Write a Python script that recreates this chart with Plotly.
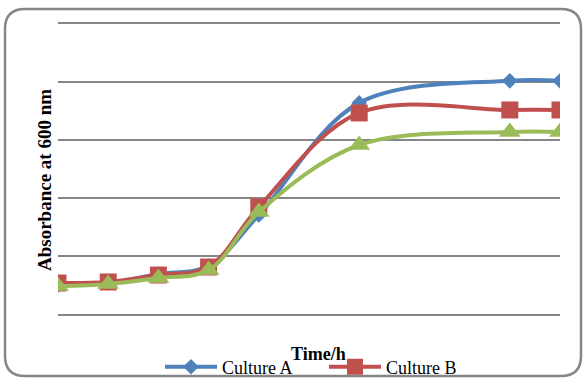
import plotly.graph_objects as go

time_h = [0, 2, 4, 6, 8, 12, 18, 20]
culture_a = [0.250, 0.267, 0.345, 0.414, 0.853, 1.820, 2.010, 2.010]
culture_b = [0.267, 0.276, 0.336, 0.405, 0.922, 1.733, 1.759, 1.759]
culture_c = [0.241, 0.259, 0.310, 0.379, 0.879, 1.457, 1.569, 1.569]

W, H = 583, 379
L, R, T, B = 58, 23, 24, 65
PW, PH = W - L - R, H - T - B

def px(x):
    return (x - L) / PW

def py(y):
    return (H - B - y) / PH

fig = go.Figure()
fig.add_trace(go.Scatter(x=time_h, y=culture_a, name="Culture A", mode="lines+markers",
                         line=dict(color="#4F81BD", width=4, shape="spline"),
                         marker=dict(symbol="diamond", size=12, color="#4F81BD")))
fig.add_trace(go.Scatter(x=time_h, y=culture_b, name="Culture B", mode="lines+markers",
                         line=dict(color="#C0504D", width=4, shape="spline"),
                         marker=dict(symbol="square", size=17, color="#C0504D")))
fig.add_trace(go.Scatter(x=time_h, y=culture_c, name="Culture C", mode="lines+markers",
                         showlegend=False,
                         line=dict(color="#9BBB59", width=4, shape="spline"),
                         marker=dict(symbol="triangle-up", size=19, color="#9BBB59")))

# rounded chart border
x0, x1, y0, y1, r = 5, 581, 9, 376, 20
path = (f"M {px(x0)},{py(y0 + r)} Q {px(x0)},{py(y0)} {px(x0 + r)},{py(y0)} "
        f"L {px(x1 - r)},{py(y0)} Q {px(x1)},{py(y0)} {px(x1)},{py(y0 + r)} "
        f"L {px(x1)},{py(y1 - r)} Q {px(x1)},{py(y1)} {px(x1 - r)},{py(y1)} "
        f"L {px(x0 + r)},{py(y1)} Q {px(x0)},{py(y1)} {px(x0)},{py(y1 - r)} Z")
fig.add_shape(type="path", path=path, xref="paper", yref="paper",
              line=dict(color="#868686", width=2.5), layer="below")

fig.add_annotation(text="<b>Time/h</b>", xref="paper", yref="paper",
                   x=px(318), y=py(354), xanchor="center", yanchor="middle", showarrow=False,
                   font=dict(family="Liberation Serif", size=18, color="black"))
fig.add_annotation(text="<b>Absorbance at 600 nm</b>", xref="paper", yref="paper",
                   x=px(44), y=py(180), xanchor="center", yanchor="middle",
                   showarrow=False, textangle=-90,
                   font=dict(family="Liberation Serif", size=19, color="black"))

fig.update_layout(
    width=W, height=H,
    margin=dict(l=L, r=R, t=T, b=B, autoexpand=False),
    paper_bgcolor="white", plot_bgcolor="white",
    font=dict(family="Liberation Serif", size=18, color="black"),
    showlegend=True,
    legend=dict(orientation="h", x=px(160), y=py(367), xanchor="left", yanchor="middle",
                font=dict(family="Liberation Serif", size=18), bgcolor="rgba(0,0,0,0)",
                traceorder="normal", itemwidth=52, entrywidth=97, entrywidthmode="pixels"),
    xaxis=dict(range=[0, 20], showgrid=False, zeroline=False, showticklabels=False,
               ticks="", showline=True, mirror=True, linecolor="#868686", linewidth=1.5),
    yaxis=dict(range=[0, 2.5], dtick=0.5, showgrid=True, gridcolor="#868686", gridwidth=1.5,
               zeroline=False, showticklabels=False, ticks="", showline=False),
)

fig.write_html("out.html", config={"displayModeBar": False},
               post_script="document.body.style.margin='0';document.body.style.overflow='hidden';")
